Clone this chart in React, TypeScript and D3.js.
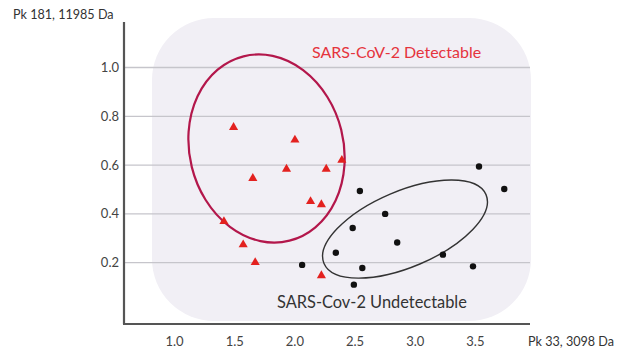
import React from "react";
import * as d3 from "d3";

// Pk 33 (x) / Pk 181 (y) intensities
const detectableX = [1.49, 2.0, 2.39, 1.93, 2.26, 1.65, 2.13, 2.22, 1.41, 1.57, 1.67, 2.22];
const detectableY = [0.755, 0.703, 0.62, 0.584, 0.584, 0.546, 0.451, 0.438, 0.369, 0.274, 0.201, 0.147];

const undetectableX = [2.54, 3.53, 2.75, 2.48, 2.85, 2.34, 3.23, 2.06, 2.56, 3.48, 2.49, 3.74];
const undetectableY = [0.494, 0.594, 0.4, 0.342, 0.283, 0.241, 0.233, 0.191, 0.178, 0.185, 0.11, 0.502];

const xTicks = [1.0, 1.5, 2.0, 2.5, 3.0, 3.5];
const yTicks = [0.2, 0.4, 0.6, 0.8, 1.0];

// group ellipses: centre in data units
const ellipseCx = [1.764, 2.915];
const ellipseCy = [0.668, 0.338];

const width = 617;
const height = 352;

const font = "Lato, 'Liberation Sans', sans-serif";

const App = () => {
  const x = d3.scaleLinear().domain([1, 3.5]).range([174.6, 475.4]);
  const y = d3.scaleLinear().domain([0, 1]).range([311.5, 67.5]);

  const axisLeft = 124;
  const axisRight = 530;
  const axisBottom = 324;
  const axisTop = 22;

  const tri = d3.symbol().type(d3.symbolTriangle).size(36)();

  return (
    <div style={{ width: width, height: height }}>
      <style>{"body{margin:0}"}</style>
      <svg width={width} height={height} style={{ display: "block", background: "#fff" }}>
        {/* background panel */}
        <rect x={152} y={18} width={379} height={303} rx={62} ry={62} fill="#f1eff5" />

        {/* gridlines */}
        {yTicks.map((t) => (
          <line key={t} x1={axisLeft} x2={axisRight} y1={y(t)} y2={y(t)} stroke="#c6c5cb" strokeWidth={1.3} />
        ))}

        {/* axes */}
        <line x1={axisLeft} x2={axisLeft} y1={axisTop} y2={axisBottom} stroke="#555" strokeWidth={2.2} />
        <line x1={axisLeft - 1} x2={axisRight} y1={axisBottom} y2={axisBottom} stroke="#555" strokeWidth={2.2} />

        <g style={{ fontFamily: font, fontSize: "13px" }} fill="#444">
          {yTicks.map((t) => (
            <text key={t} x={119} y={y(t)} dy="0.35em" textAnchor="end">
              {t.toFixed(1)}
            </text>
          ))}
          {xTicks.map((t) => (
            <text key={t} x={x(t)} y={341} dy="0.35em" textAnchor="middle">
              {t.toFixed(1)}
            </text>
          ))}
          <text x={13} y={15} dy="0.35em" fill="#333" style={{ fontSize: "12.6px" }}>Pk 181, 11985 Da</text>
          <text x={614} y={342} dy="0.35em" textAnchor="end" fill="#333" style={{ fontSize: "12.6px" }}>Pk 33, 3098 Da</text>
        </g>

        {/* group ellipses */}
        <ellipse
          transform={`translate(${x(ellipseCx[0])},${y(ellipseCy[0])}) rotate(-14)`}
          rx={77}
          ry={95}
          fill="none"
          stroke="#b3174b"
          strokeWidth={2.2}
        />
        <ellipse
          transform={`translate(${x(ellipseCx[1])},${y(ellipseCy[1])}) rotate(-23)`}
          rx={88}
          ry={38}
          fill="none"
          stroke="#333"
          strokeWidth={1.4}
        />

        {/* points */}
        {detectableX.map((d, i) => (
          <path key={"t" + i} d={tri} transform={`translate(${x(d)},${y(detectableY[i])})`} fill="#e3211f" />
        ))}
        {undetectableX.map((d, i) => (
          <circle key={"c" + i} cx={x(d)} cy={y(undetectableY[i])} r={3.2} fill="#111" />
        ))}

        {/* group labels */}
        <text x={312} y={52} dy="0.35em" style={{ fontFamily: font, fontSize: "16px" }} fill="#e5343d">
          SARS-CoV-2 Detectable
        </text>
        <text x={277} y={302} dy="0.35em" style={{ fontFamily: font, fontSize: "16.4px" }} fill="#333">
          SARS-Cov-2 Undetectable
        </text>
      </svg>
    </div>
  );
};

export default App;
